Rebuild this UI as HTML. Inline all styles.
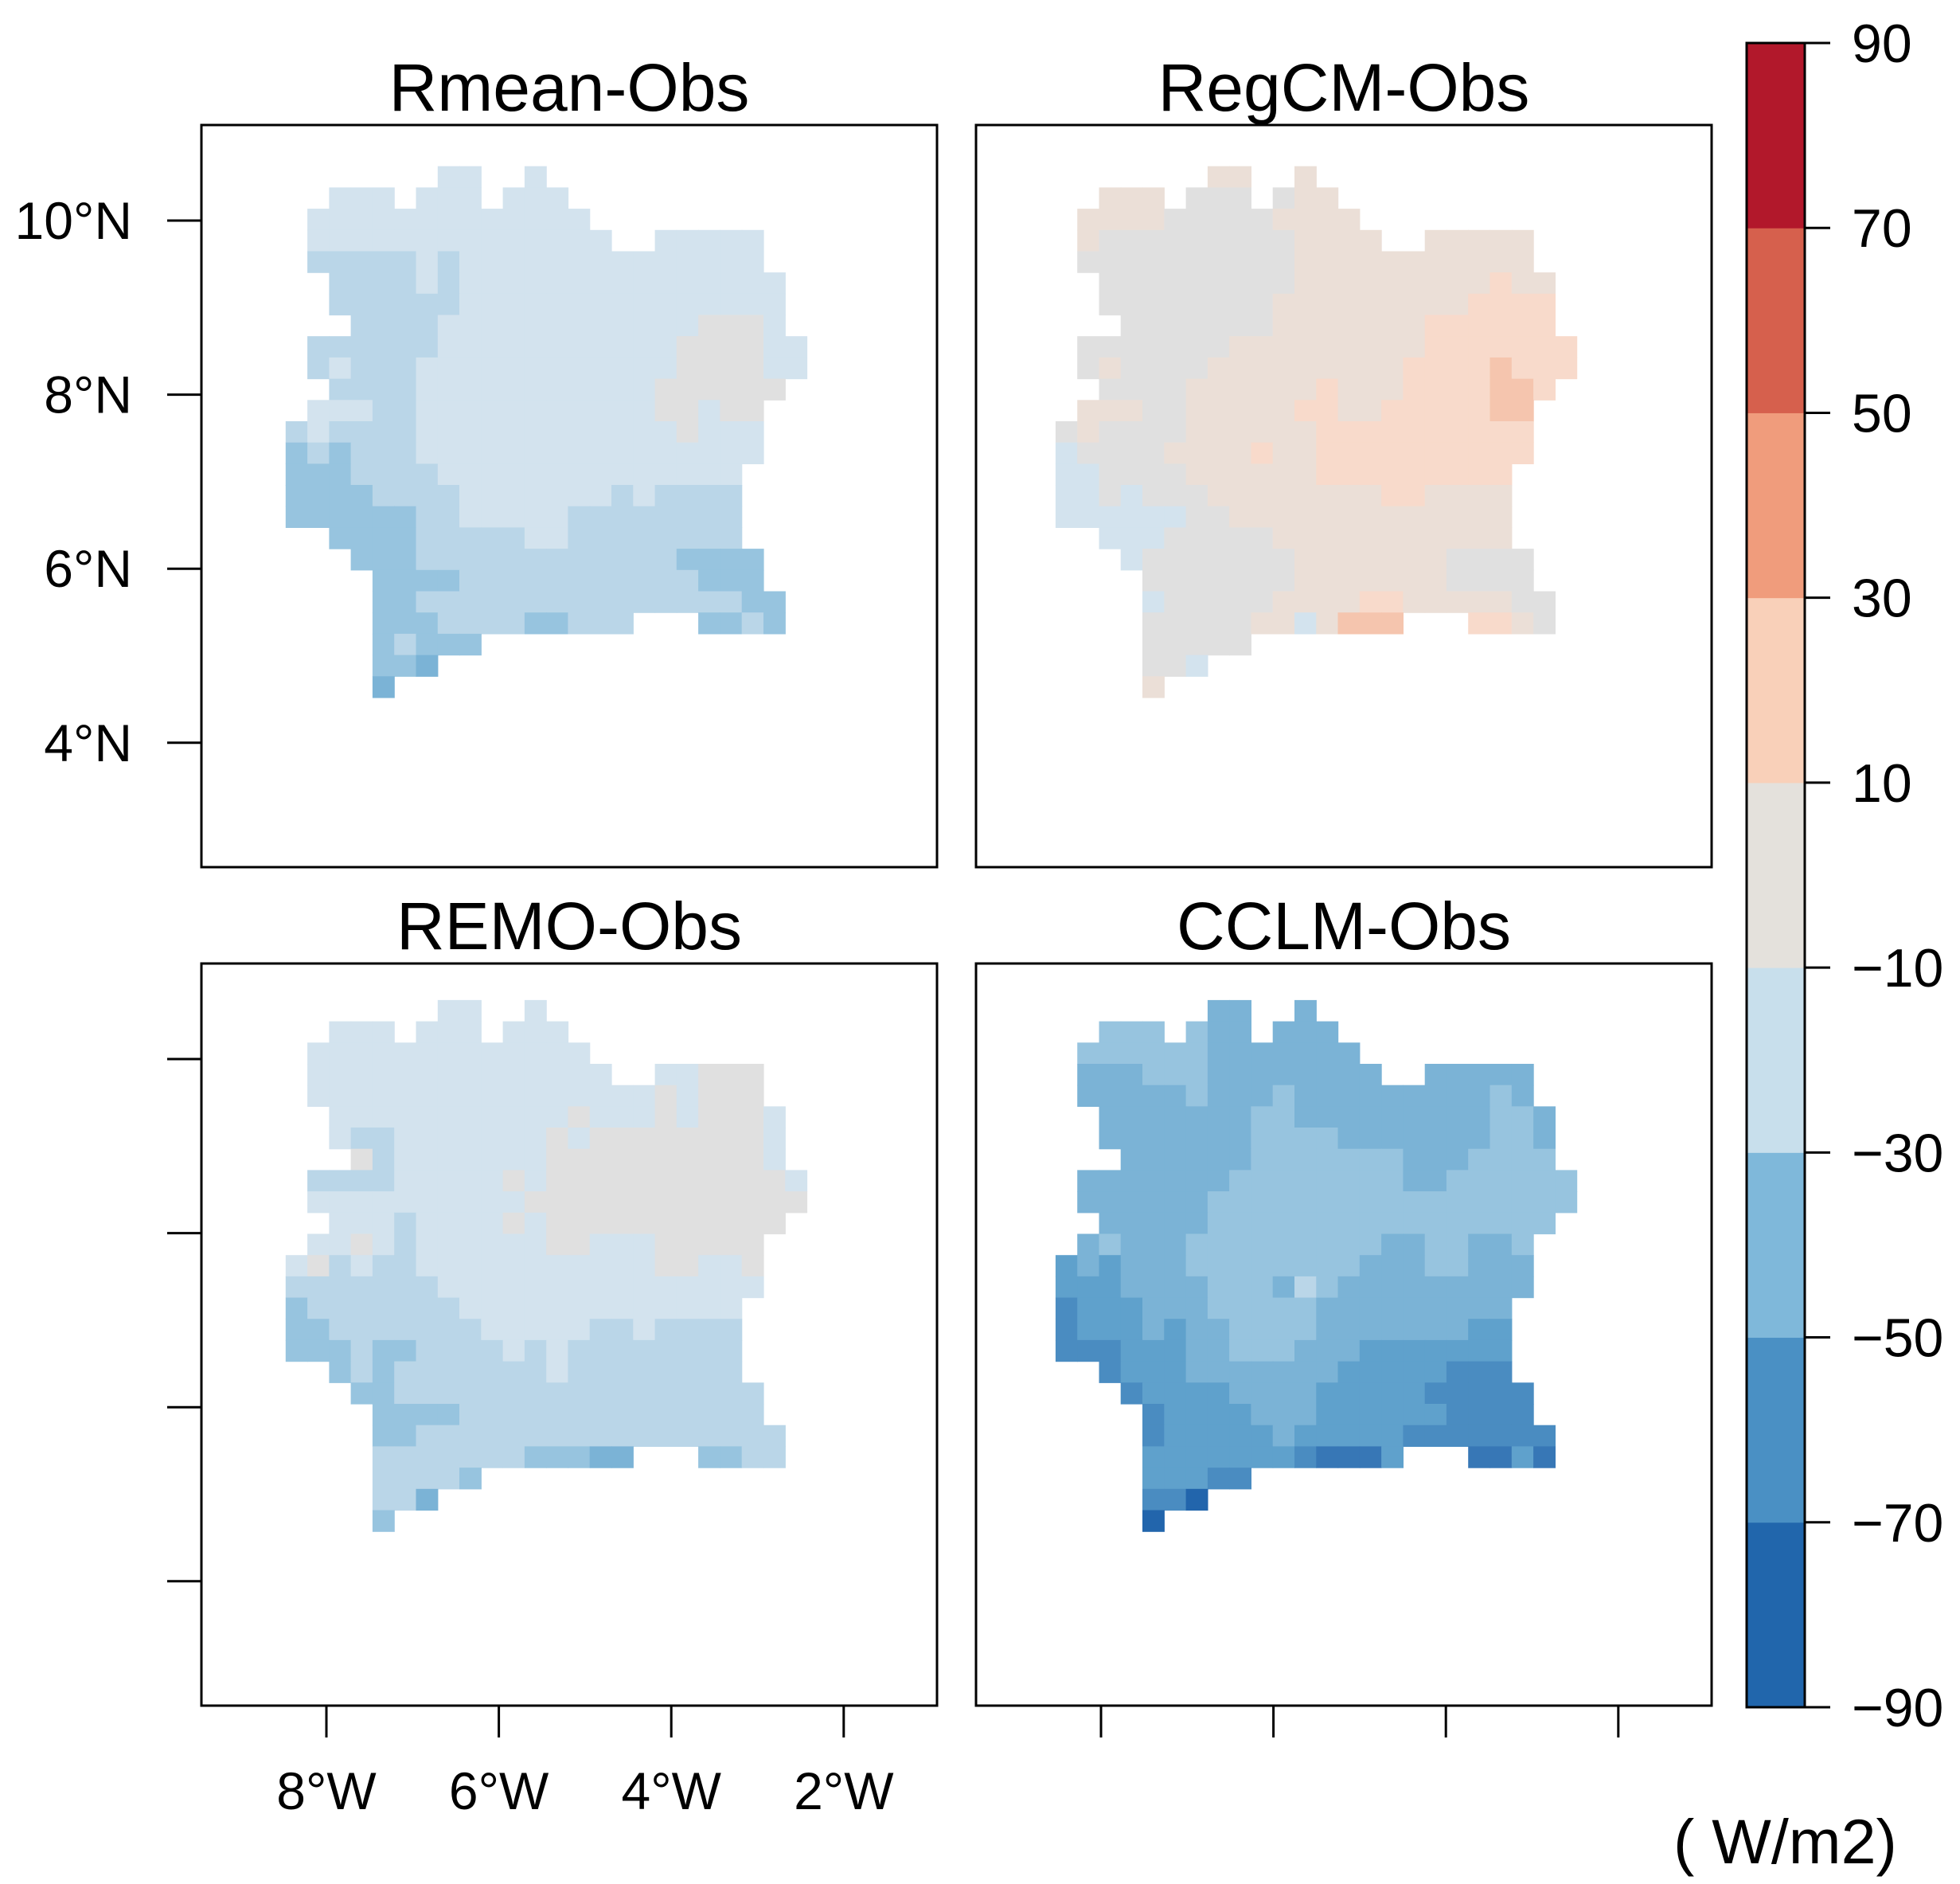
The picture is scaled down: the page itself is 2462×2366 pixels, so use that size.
<!DOCTYPE html>
<html><head><meta charset="utf-8"><style>
html,body{margin:0;padding:0;background:#fff;}
svg{display:block;font-family:"Liberation Sans",sans-serif;}
</style></head><body>
<svg id="fig" width="2462" height="2366" viewBox="0 0 2462 2366" xmlns="http://www.w3.org/2000/svg"></svg>
<script>
// ---- data: run-length encoded grid rows (value classes per cell) ----
const gridRmean=["7.2a2.1a","2.3a1.3a1.3a","1.13a","1.14a2.5a","1.5b1a1b14a","2.4b1a1b15a","2.6b15a","3.4b12a3n1a","1.6b11a4n2a","1.1b1a3b12a4n2a","2.4b11a6n","1.3a2b11a2n1a2n","1b1a4b12a1n3a","1c1b1c3b16a","3c4b14a","4c4b7a1b1a4b","6c2b5a8b","2.4c5b2a8b","3.3c12b4c","4.4c11b3c","4.2c15b2c","4.3c4b2c3b3.2c1b1c","4.1c1b3c","4.2c1d","4.1d"];
const gridRegCM=["7.2p2.1p","2.3p1.3n1.1n2p","1.4p5n4p","1.1p9n4p2.5p","1.10n11p","2.9n9p1q2p","2.8n9p4q","3.7n7p6q","1.7n9p7q","1.1n1p4n9p4q1r3q","2.4n6p1q3p4q2r1q","1.3p2n5p2q2p5q2r","1n1p4n6p10q","1a4n4p1q2p10q","2a4n6p9q","2a1n1a3n8p2q4p","6a2n13p","2.3a5n11p","3.1a7n7p4n","4.7n7p4n","4.1a5n4p2q5p2n","4.5n2p1a1p3r3.2q1p1n","4.5n","4.2n1a","4.1p"];
const gridREMO=["7.2a2.1a","2.3a1.3a1.3a","1.13a","1.14a2.2a3n","1.16a1n1a3n","2.11a1n3a1n1a3n1a","2.1a2b7a1n1a8n1a","3.1n1b7a10n1a","1.4b5a1n1a11n1a","1.10a13n","2.3a1b4a1n1a11n","1.2a1n1a1b6a2n3a5n","1a1n1b1a2b11a2n2a1n","7b15a","1c7b13a","2c7b5a2b1a4b","3c1b2c4b1a1b1a8b","2.1c1b1c7b1a8b","3.2c17b","4.4c14b","4.2c17b","4.7b3c2d3.2c2b","4.4b1c","4.2b1d","4.1c"];
const gridCCLM=["7.2d2.1d","2.3c1.1c2d1.3d","1.6c7d","1.3d3c8d2.5d","1.5d1c3d1c9d1c1d","2.7d2c9d2c1d","2.7d4c7d2c1d","3.6d7c3d4c","1.7d8c2d6c","1.6d17c","2.5d16c","1.1d1c3d9c2d2c2d1c","1e1d1e3d8c3d2c3d","3e4d3c1d1b1c9d","1f3e3d5c9d","1f3e1d1e2d4c7d2e","3f3e2d3c3d7e","2.1f3e7d5e3f","3.1f4e4d5e5f","4.1f4e3d6e4f","4.1f5e1d5e7f","4.7e1f3g1e3.2g1e1g","4.3e2f","4.2f1h","4.1h"];
const panelTitles=["Rmean-Obs","RegCM-Obs","REMO-Obs","CCLM-Obs"];
const latTicks=[10,8,6,4];
const lonTicks=[8,6,4,2];
const cbLevels=[-90,-70,-50,-30,-10,10,30,50,70,90];
const cbColors=["#2166ac","#4a90c4","#7fb8da","#c8dfec","#e4e1dc","#f9d0b9","#f09c7c","#d6604d","#b2182b"];
const cellColors={a:"#d3e3ee",b:"#bad6e8",c:"#97c4df",d:"#7bb3d6",e:"#5fa1cc",f:"#4a8cc1",g:"#3777b6",h:"#2265ac",n:"#e0e0e0",p:"#ebdfd7",q:"#f8dacb",r:"#f5c5ae"};

const NS="http://www.w3.org/2000/svg";
const svg=document.getElementById('fig');
function mk(tag,attrs,parent){const e=document.createElementNS(NS,tag);for(const k in attrs)e.setAttribute(k,attrs[k]);(parent||svg).appendChild(e);return e;}

const panels=[
 {grid:gridRmean,fx:253,fy:157,mx:358.8,my:208.7,name:'rmean'},
 {grid:gridRegCM,fx:1226,fy:157,mx:1325.9,my:208.7,name:'regcm'},
 {grid:gridREMO,fx:253,fy:1210,mx:358.8,my:1255.9,name:'remo'},
 {grid:gridCCLM,fx:1226,fy:1210,mx:1325.9,my:1255.9,name:'cclm'}
];
const FW=924,FH=932,CW=27.28,CH=26.69;
const lonX=(w)=>157+(8-w)*108.3;
const latY=(n)=>120+(10-n)*109.3;

function decode(row){const out=[];row.replace(/(\d*)(\D)/g,(m,n,c)=>{const k=n?parseInt(n):1;for(let i=0;i<k;i++)out.push(c);});return out;}

panels.forEach((p,pi)=>{
  const g=mk('g',{});
  
  
  p.grid.forEach((row,ri)=>{
    decode(row).forEach((c,ci)=>{
      if(c==='.')return;
      const r=mk('rect',{x:(p.mx+ci*CW).toFixed(1),y:(p.my+ri*CH).toFixed(1),width:(CW+0.6).toFixed(1),height:(CH+0.6).toFixed(1),fill:cellColors[c]},g);
      
      
    });
  });
  const fr=mk('rect',{x:p.fx,y:p.fy,width:FW,height:FH,fill:'none',stroke:'#000','stroke-width':3},g);
  
  
  const t=mk('text',{x:p.fx+FW/2,y:p.fy-18,'text-anchor':'middle','font-size':84},g);
  t.textContent=panelTitles[pi];
  
  
  if(pi%2===0){
    latTicks.forEach(n=>{
      const y=p.fy+latY(n);
      const l=mk('line',{x1:p.fx-43,x2:p.fx,y1:y,y2:y,stroke:'#000','stroke-width':3},g);
      
      
      if(pi===0){
        const tl=mk('text',{x:166,y:y+23,'text-anchor':'end','font-size':66},g);
        tl.textContent=n+'°N';
        
        
      }
    });
  }
  if(pi>=2){
    lonTicks.forEach(w=>{
      const x=p.fx+lonX(w);
      const l=mk('line',{x1:x,x2:x,y1:p.fy+FH,y2:p.fy+FH+40,stroke:'#000','stroke-width':3},g);
      
      
      if(pi===2){
        const tl=mk('text',{x:x,y:2272,'text-anchor':'middle','font-size':66},g);
        tl.textContent=w+'°W';
        
        
      }
    });
  }
});

const CBX=2194,CBW=73,CBT=54,CBB=2144;
const cbY=(v)=>CBB-(v-cbLevels[0])/(cbLevels[cbLevels.length-1]-cbLevels[0])*(CBB-CBT);
const cb=mk('g',{});


cbColors.forEach((col,i)=>{
  const y1=cbY(cbLevels[i+1]),y0=cbY(cbLevels[i]);
  const r=mk('rect',{x:CBX,y:y1,width:CBW,height:y0-y1+0.5,fill:col},cb);
  
  
});
const cbf=mk('rect',{x:CBX,y:CBT,width:CBW,height:CBB-CBT,fill:'none',stroke:'#000','stroke-width':3},cb);


cbLevels.forEach(v=>{
  const y=cbY(v);
  const l=mk('line',{x1:CBX+CBW,x2:CBX+CBW+32,y1:y,y2:y,stroke:'#000','stroke-width':3},cb);
  
  
  const t=mk('text',{x:2326,y:y+24,'font-size':68},cb);
  t.textContent=(v<0?'\u2212':'')+Math.abs(v);
  
  
});
const unit=mk('text',{x:2102,y:2340,'font-size':79},cb);
unit.textContent='( W/m2)';


</script>
</body></html>
